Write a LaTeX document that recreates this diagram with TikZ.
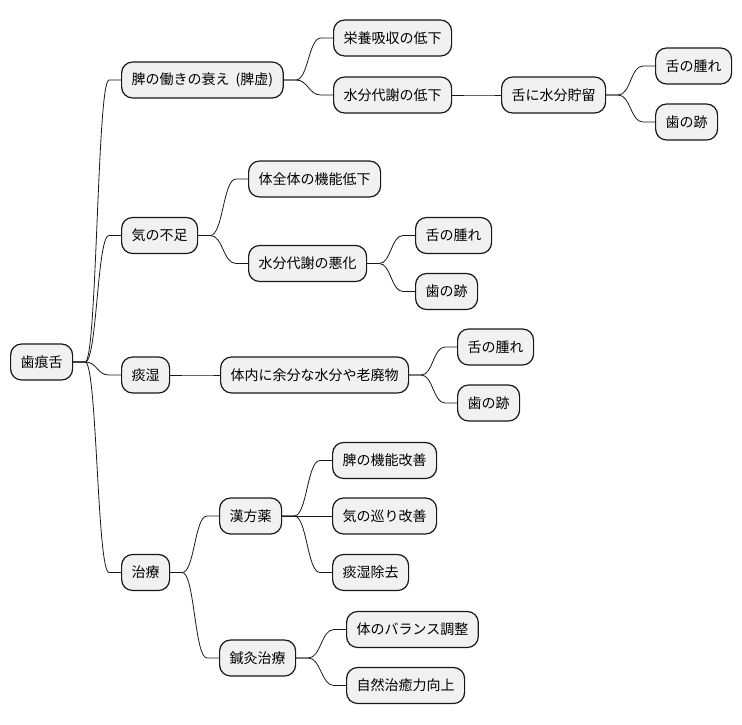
\documentclass[tikz,border=0pt]{standalone}
\usepackage{fontspec}
\newfontfamily\cjk{Noto Sans CJK JP}
\usetikzlibrary{calc}

\definecolor{boxfill}{HTML}{F1F1F1}
\definecolor{boxline}{HTML}{181818}

\tikzset{
  topic/.style={draw=boxline, fill=boxfill, line width=1.2pt, rounded corners=11pt,
    minimum height=36pt, inner xsep=10pt, anchor=west},
  link/.style={draw=boxline, line width=0.8pt}
}

\begin{document}
\begin{tikzpicture}[
  x=1pt, y=-1pt,
  every node/.style={font=\cjk\fontsize{14}{16}\selectfont}
]
\useasboundingbox (0,0) rectangle (742,724);

% root
\node[topic] (root) at (10,362) {歯痕舌};

% spleen branch
\node[topic] (spleen) at (121,80) {脾の働きの衰え\hspace{3pt} (脾虚)};
\node[topic] (nutri) at (333,38) {栄養吸収の低下};
\node[topic] (waterA) at (333,95) {水分代謝の低下};
\node[topic] (retain) at (501,95) {舌に水分貯留};
\node[topic] (swellA) at (655,66) {舌の腫れ};
\node[topic] (markA) at (655,122) {歯の跡};

% qi branch
\node[topic] (qi) at (121,235.5) {気の不足};
\node[topic] (func) at (248,179) {体全体の機能低下};
\node[topic] (waterB) at (248,263.5) {水分代謝の悪化};
\node[topic] (swellB) at (415,235.5) {舌の腫れ};
\node[topic] (markB) at (415,291.5) {歯の跡};

% damp branch
\node[topic] (damp) at (121,375) {痰湿};
\node[topic] (excess) at (220,375) {体内に余分な水分や老廃物};
\node[topic] (swellC) at (457,347) {舌の腫れ};
\node[topic] (markC) at (457,403) {歯の跡};

% treatment branch
\node[topic] (cure) at (121,572.5) {治療};
\node[topic] (kampo) at (219,516) {漢方薬};
\node[topic] (spleenup) at (332,460.5) {脾の機能改善};
\node[topic] (flow) at (332,516) {気の巡り改善};
\node[topic] (phlegm) at (332,572.5) {痰湿除去};
\node[topic] (acu) at (219,658) {鍼灸治療};
\node[topic] (balance) at (346,629.5) {体のバランス調整};
\node[topic] (heal) at (346,685.5) {自然治癒力向上};

% connectors: stub, s-curve, stub
\foreach \p/\c in {root/spleen, root/qi, root/damp, root/cure,
    spleen/nutri, spleen/waterA, waterA/retain, retain/swellA, retain/markA,
    qi/func, qi/waterB, waterB/swellB, waterB/markB,
    damp/excess, excess/swellC, excess/markC,
    cure/kampo, cure/acu, kampo/spleenup, kampo/flow, kampo/phlegm,
    acu/balance, acu/heal} {
  \draw[link] (\p.east) -- ++(12,0) coordinate (s)
    (\c.west) ++(-12,0) coordinate (t)
    ($(s)!.5!(t)$) coordinate (m)
    (s) .. controls (m |- s) and (m |- t) .. (t) -- (\c.west);
}

\end{tikzpicture}
\end{document}
